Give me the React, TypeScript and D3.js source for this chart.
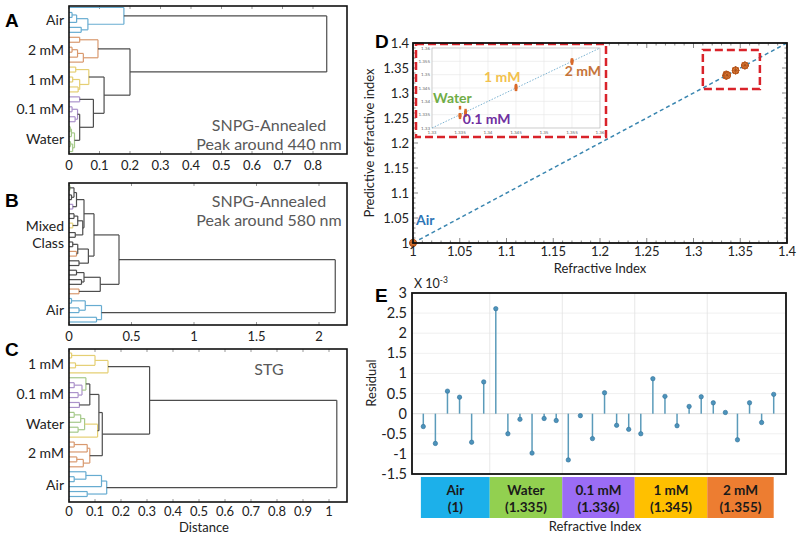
/**
 * App.tsx – dendrograms (A–C), refractive index fit (D) and residuals (E)
 */
import React from "react";
import * as d3 from "d3";

type Node = string | [Node, Node, number, string?];

const FONT = "Lato, 'Open Sans', sans-serif";

// ── Dendrogram data (leaf = class key, node = [left, right, distance, colourOverride?]) ──
const dendroColors: Record<string, string> = {
  a: "#67acd1",
  o: "#d9996e",
  y: "#e5cf73",
  p: "#ab92cb",
  g: "#a5c98a",
};
const LINK_GREY = "#4d4d4d";

const airA: Node = ["a", [[["a", "a", 0.01], "a", 0.025], ["a", "a", 0.04], 0.062], 0.18];
const mm2A: Node = [["o", "o", 0.035], [[["o", "o", 0.01], "o", 0.028], "o", 0.047], 0.095];
const mm1A: Node = [["y", "y", 0.022], [["y", "y", 0.012], ["y", "y", 0.03], 0.035], 0.065];
const pwA: Node = [
  ["p", "p", 0.035],
  [
    [["p", "p", 0.01], ["p", "p", 0.02], 0.028],
    [[["g", "g", 0.004], "g", 0.008], [["g", "g", 0.005], "g", 0.012], 0.018],
    0.035,
  ],
  0.08,
];
const treeA: Node = [airA, [mm2A, [mm1A, pwA, 0.115], 0.2], 0.845];

const g1B: Node = [
  [[["g", "g", 0.008], ["p", "g", 0.02], 0.04], ["p", "p", 0.03], 0.06],
  [[["y", "p", 0.04], ["y", "y", 0.03], 0.07], ["g", "p", 0.05], 0.11],
  0.12,
];
const g2B: Node = [[["o", "y", 0.03], ["o", "o", 0.06], 0.07], ["y", "p", 0.08], 0.155];
const g3B: Node = [[["y", "o", 0.06], ["o", "y", 0.1], 0.12], ["o", "o", 0.08], 0.25];
const airB: Node = [[["a", "a", 0.02], ["a", "a", 0.08], 0.13], ["a", "a", 0.22], 0.26];
const treeB: Node = [[[g1B, g2B, 0.2], g3B, 0.4], airB, 2.13];

const mm1C: Node = [[["y", "y", 0.01], ["y", "y", 0.025], 0.1], "y", 0.15];
const pC: Node = [["p", "p", 0.02], ["p", "p", 0.035], 0.05];
const pgC: Node = [["g", pC, 0.065, "g"], ["p", "p", 0.04], 0.08];
const wC: Node = [[["g", "g", 0.02], "g", 0.045], ["g", "g", 0.035], 0.06];
const wyC: Node = [wC, "y", 0.11, "y"];
const mm2C: Node = [[["o", "o", 0.02], "o", 0.07], [["o", "o", 0.03], "o", 0.055], 0.08];
const airC: Node = [[["a", ["a", "a", 0.02], 0.065], "a", 0.125], ["a", "a", 0.07], 0.145];
const treeC: Node = [[mm1C, [[pgC, wyC, 0.115], mm2C, 0.128], 0.31], airC, 1.03];

const ticksA = [0, 0.1, 0.2, 0.3, 0.4, 0.5, 0.6, 0.7, 0.8];
const ticksB = [0, 0.5, 1, 1.5, 2];
const ticksC = [0, 0.1, 0.2, 0.3, 0.4, 0.5, 0.6, 0.7, 0.8, 0.9, 1];

const labelsA = ["Air", "2 mM", "1 mM", "0.1 mM", "Water"];
const labelLeafA = [2.5, 8.5, 14.5, 20.5, 26.5];
const labelsB = ["Mixed\nClass", "Air"];
const labelLeafB = [10.5, 26.5];
const labelsC = ["1 mM", "0.1 mM", "Water", "2 mM", "Air"];
const labelLeafC = [2.2, 8.3, 14.3, 20.3, 26.6];

// ── Refractive index data ──
const classes = ["Air", "Water", "0.1 mM", "1 mM", "2 mM"];
const classRI = [1, 1.335, 1.336, 1.345, 1.355];
const classRILabel = ["(1)", "(1.335)", "(1.336)", "(1.345)", "(1.355)"];
const classBoxColors = ["#1cb0ea", "#92d050", "#9b6cf5", "#ffc000", "#ed7d31"];
const samplesPerClass = 6;
// residuals, x 10^-3, in sample order
const residuals = [
  -0.32, -0.74, 0.56, 0.41, -0.71, 0.79,
  2.61, -0.5, -0.14, -0.98, -0.12, -0.17,
  -1.15, -0.05, -0.62, 0.52, -0.29, -0.39,
  -0.5, 0.87, 0.43, -0.3, 0.18, 0.42,
  0.27, 0.03, -0.65, 0.27, -0.22, 0.48,
];

const ticksD = [1, 1.05, 1.1, 1.15, 1.2, 1.25, 1.3, 1.35, 1.4];
const ticksInset = [1.33, 1.335, 1.34, 1.345, 1.35, 1.355, 1.36];
const ticksE = [3, 2.5, 2, 1.5, 1, 0.5, 0, -0.5, -1, -1.5];
const insetLabels = ["Water", "0.1 mM", "1 mM", "2 mM"];
const insetLabelColors = ["#70ad47", "#7030a0", "#f2c14e", "#c5743a"];

function countLeaves(n: Node): number {
  return typeof n === "string" ? 1 : countLeaves(n[0]) + countLeaves(n[1]);
}

interface Seg { x1: number; y1: number; x2: number; y2: number; color: string }

function dendroSegments(tree: Node, x: (v: number) => number, y: (v: number) => number) {
  const segs: Seg[] = [];
  let i = 0;
  const walk = (n: Node): { y: number; h: number; cls: string | null } => {
    if (typeof n === "string") return { y: y(i++), h: 0, cls: n };
    const l = walk(n[0]);
    const r = walk(n[1]);
    const cls = l.cls && l.cls === r.cls ? l.cls : null;
    const key = n[3] ?? cls;
    const color = key ? dendroColors[key] : LINK_GREY;
    const xh = x(n[2]);
    segs.push({ x1: x(l.h), y1: l.y, x2: xh, y2: l.y, color });
    segs.push({ x1: x(r.h), y1: r.y, x2: xh, y2: r.y, color });
    segs.push({ x1: xh, y1: l.y, x2: xh, y2: r.y, color });
    return { y: (l.y + r.y) / 2, h: n[2], cls };
  };
  walk(tree);
  return segs;
}

interface DendroProps {
  tree: Node;
  xMax: number;
  ticks: number[];
  y0: number;
  y1: number;
  leafRange: [number, number];
  labels: string[];
  labelLeaf: number[];
  notes: string[];
  noteY: number;
  letter: string;
  letterY: number;
  xLabel?: string;
}

const Dendrogram: React.FC<DendroProps> = (p) => {
  const X0 = 69, X1 = 347;
  const x = d3.scaleLinear().domain([0, p.xMax]).range([X0, X1]);
  const n = countLeaves(p.tree);
  const y = d3.scaleLinear().domain([0, n - 1]).range(p.leafRange);
  const segs = dendroSegments(p.tree, x, y);
  const tickY = p.xLabel ? p.y1 + 14 : p.y1 + 16;
  return (
    <g>
      <rect x={X0} y={p.y0} width={X1 - X0} height={p.y1 - p.y0} fill="#fff" />
      {p.ticks.map((t) => (
        <g key={t}>
          <line x1={x(t)} x2={x(t)} y1={p.y1} y2={p.y1 - 3} stroke="#999" />
          <line x1={x(t)} x2={x(t)} y1={p.y0} y2={p.y0 + 3} stroke="#999" />
          <text x={x(t)} y={tickY} textAnchor="middle" fontSize={13} fill="#222">
            {t}
          </text>
        </g>
      ))}
      {segs.map((s, i) => (
        <line key={i} x1={s.x1} y1={s.y1} x2={s.x2} y2={s.y2} stroke={s.color} strokeWidth={1.2} />
      ))}
      <rect x={X0} y={p.y0} width={X1 - X0} height={p.y1 - p.y0} fill="none" stroke="#111" strokeWidth={1.6} />
      {p.labels.map((lab, k) => {
        const lines = lab.split("\n");
        const cy = y(p.labelLeaf[k]);
        return (
          <text key={lab} x={64} textAnchor="end" fontSize={14} fill="#222">
            {lines.map((ln, j) => (
              <tspan key={j} x={64} y={cy + 5 + (j - (lines.length - 1) / 2) * 17}>
                {ln}
              </tspan>
            ))}
          </text>
        );
      })}
      {p.notes.map((ln, j) => (
        <text key={j} x={269} y={p.noteY + j * 19} textAnchor="middle" fontSize={16} fill="#595959">
          {ln}
        </text>
      ))}
      <text x={5} y={p.letterY} fontSize={19} fontWeight="bold" fontFamily="'Liberation Sans', Arial, sans-serif">
        {p.letter}
      </text>
      {p.xLabel && (
        <text x={(X0 + X1) / 2 - 4} y={p.y1 + 30} textAnchor="middle" fontSize={13} fill="#222">
          {p.xLabel}
        </text>
      )}
    </g>
  );
};

const fmt = (v: number) => String(+v.toFixed(3));

const PanelD: React.FC = () => {
  const x = d3.scaleLinear().domain([1, 1.4]).range([413, 787]);
  const y = d3.scaleLinear().domain([1, 1.4]).range([243, 43]);
  const minor = d3.range(100, 141).map((v) => v / 100);
  const pts = residuals.map((r, i) => {
    const ri = classRI[Math.floor(i / samplesPerClass)];
    return { ri, pred: ri + r / 1000 };
  });
  // inset
  const ix = d3.scaleLinear().domain([1.33, 1.36]).range([432, 600]);
  const iy = d3.scaleLinear().domain([1.33, 1.36]).range([128, 48]);
  const insetLabelPos: [number, number][] = [
    [1.3302, 1.3394],
    [1.3355, 1.3315],
    [1.3393, 1.3474],
    [1.3537, 1.3496],
  ];
  const zoomBox = { x0: 1.31, x1: 1.371, y0: 1.308, y1: 1.386 };
  return (
    <g>
      <rect x={413} y={43} width={374} height={200} fill="#fff" />
      {minor.map((v) => {
        const major = Math.abs(v * 20 - Math.round(v * 20)) < 1e-6;
        const len = major ? 5 : 2.5;
        return (
          <g key={v} stroke="#555" strokeWidth={0.7}>
            <line x1={x(v)} x2={x(v)} y1={243} y2={243 - len} />
            <line x1={x(v)} x2={x(v)} y1={43} y2={43 + len} />
            <line x1={413} x2={413 + len} y1={y(v)} y2={y(v)} />
            <line x1={787} x2={787 - len} y1={y(v)} y2={y(v)} />
          </g>
        );
      })}
      <line x1={x(1)} y1={y(1)} x2={x(1.4)} y2={y(1.4)} stroke="#3a86b0" strokeWidth={1.5} strokeDasharray="4,3" />
      {pts.map((d, i) => (
        <g key={i} transform={`translate(${x(d.ri)},${y(d.pred)})`}>
          <circle r={3.2} fill="#e8833a" stroke="#b5541c" strokeWidth={0.8} />
          <path d="M-3.5,0H3.5M0,-3.5V3.5M-2.5,-2.5L2.5,2.5M-2.5,2.5L2.5,-2.5" stroke="#a04a18" strokeWidth={0.7} />
        </g>
      ))}
      <rect
        x={x(zoomBox.x0)}
        y={y(zoomBox.y1)}
        width={x(zoomBox.x1) - x(zoomBox.x0)}
        height={y(zoomBox.y0) - y(zoomBox.y1)}
        fill="none"
        stroke="#d9232a"
        strokeWidth={2.5}
        strokeDasharray="8,4"
      />
      {/* inset */}
      <rect x={416} y={44} width={190} height={93} fill="#fff" />
      {ticksInset.map((t) => (
        <g key={t}>
          <line x1={ix(t)} x2={ix(t)} y1={48} y2={128} stroke="#e6e6e6" strokeWidth={0.6} />
          <line x1={432} x2={600} y1={iy(t)} y2={iy(t)} stroke="#e6e6e6" strokeWidth={0.6} />
          <text x={ix(t)} y={133.5} textAnchor="middle" fontSize={4.5} fill="#666">{fmt(t)}</text>
          <text x={430} y={iy(t) + 1.5} textAnchor="end" fontSize={4.5} fill="#666">{fmt(t)}</text>
        </g>
      ))}
      <rect x={432} y={48} width={168} height={80} fill="none" stroke="#bbb" strokeWidth={0.6} />
      <line x1={ix(1.33)} y1={iy(1.33)} x2={ix(1.36)} y2={iy(1.36)} stroke="#5aa0c5" strokeWidth={0.8} strokeDasharray="1.5,1.5" />
      {pts.filter((d) => d.ri > 1.3).map((d, i) => (
        <rect key={i} x={ix(d.ri) - 1.2} y={iy(d.pred) - 1.8} width={2.4} height={3.6} fill="#d9692a" />
      ))}
      {insetLabels.map((lab, k) => (
        <text key={lab} x={ix(insetLabelPos[k][0])} y={iy(insetLabelPos[k][1])} fontSize={14} fontWeight="bold" fill={insetLabelColors[k]}>
          {lab}
        </text>
      ))}
      <rect x={416} y={44} width={190} height={93} fill="none" stroke="#d9232a" strokeWidth={2.5} strokeDasharray="8,4" />
      <text x={x(1) + 3} y={225} fontSize={14} fontWeight="bold" fill="#2e75b6">Air</text>
      <rect x={413} y={43} width={374} height={200} fill="none" stroke="#111" strokeWidth={1.8} />
      {ticksD.map((t) => (
        <g key={t}>
          <text x={x(t)} y={256} textAnchor="middle" fontSize={13} fill="#222">{fmt(t)}</text>
          <text x={409} y={y(t) + 4.5} textAnchor="end" fontSize={13} fill="#222">{fmt(t)}</text>
        </g>
      ))}
      <text x={600} y={273} textAnchor="middle" fontSize={13} fill="#222">Refractive Index</text>
      <text transform="translate(374,143) rotate(-90)" textAnchor="middle" fontSize={13} fill="#222">
        Predictive refractive index
      </text>
      <text x={375} y={48} fontSize={19} fontWeight="bold" fontFamily="'Liberation Sans', Arial, sans-serif">D</text>
    </g>
  );
};

const PanelE: React.FC = () => {
  const y = d3.scaleLinear().domain([-1.5, 3]).range([474, 293]);
  const sx = d3.scaleLinear().domain([0, residuals.length - 1]).range([423.3, 773.7]);
  const edges = [-0.2, 5.5, 11.5, 17.5, 23.5, 29];
  return (
    <g>
      <rect x={412} y={293} width={374} height={181} fill="#fff" />
      {ticksE.map((t) => (
        <line key={t} x1={412} x2={786} y1={y(t)} y2={y(t)} stroke="#ececec" strokeWidth={0.8} />
      ))}
      {edges.slice(1, -1).map((e) => (
        <line key={e} x1={sx(e)} x2={sx(e)} y1={293} y2={474} stroke="#e2e2e2" strokeWidth={0.8} />
      ))}
      <line x1={412} x2={786} y1={y(0)} y2={y(0)} stroke="#d0d0d0" strokeWidth={0.6} />
      {residuals.map((r, i) => (
        <g key={i}>
          <line x1={sx(i)} x2={sx(i)} y1={y(0)} y2={y(r)} stroke="#5b9bba" strokeWidth={1.5} />
          <circle cx={sx(i)} cy={y(r)} r={2.2} fill="#4d93bb" stroke="#2f7099" strokeWidth={0.6} />
        </g>
      ))}
      <rect x={412} y={293} width={374} height={181} fill="none" stroke="#111" strokeWidth={1.8} />
      {ticksE.map((t) => (
        <text key={t} x={407} y={y(t) + 5} textAnchor="end" fontSize={14.5} fill="#222">{t}</text>
      ))}
      <text x={414} y={288} fontSize={12.5} fill="#222">
        X 10<tspan dy={-5} fontSize={8.5}>-3</tspan>
      </text>
      <text transform="translate(376,383) rotate(-90)" textAnchor="middle" fontSize={13} fill="#222">Residual</text>
      {classes.map((c, k) => {
        const x0 = sx(edges[k]);
        const x1 = sx(edges[k + 1]);
        return (
          <g key={c}>
            <rect x={x0} y={477} width={x1 - x0} height={41} fill={classBoxColors[k]} />
            <text x={(x0 + x1) / 2} y={495} textAnchor="middle" fontSize={13.5} fontWeight="bold" fill="#1a1a1a">{c}</text>
            <text x={(x0 + x1) / 2} y={512} textAnchor="middle" fontSize={13.5} fontWeight="bold" fill="#1a1a1a">{classRILabel[k]}</text>
          </g>
        );
      })}
      <text x={595} y={531} textAnchor="middle" fontSize={13} fill="#222">Refractive Index</text>
      <text x={375} y={302} fontSize={19} fontWeight="bold" fontFamily="'Liberation Sans', Arial, sans-serif">E</text>
    </g>
  );
};

export default function App() {
  return (
    <svg
      width={800}
      height={536}
      viewBox="0 0 800 536"
      style={{ position: "absolute", left: 0, top: 0, background: "#fff" }}
      fontFamily={FONT}
    >
      <Dendrogram
        tree={treeA}
        xMax={278 / 305}
        ticks={ticksA}
        y0={6}
        y1={154}
        leafRange={[7.5, 151.5]}
        labels={labelsA}
        labelLeaf={labelLeafA}
        notes={["SNPG-Annealed", "Peak around 440 nm"]}
        noteY={131}
        letter="A"
        letterY={27}
      />
      <Dendrogram
        tree={treeB}
        xMax={278 / 125}
        ticks={ticksB}
        y0={183}
        y1={325}
        leafRange={[185.5, 322]}
        labels={labelsB}
        labelLeaf={labelLeafB}
        notes={["SNPG-Annealed", "Peak around 580 nm"]}
        noteY={207}
        letter="B"
        letterY={207}
      />
      <Dendrogram
        tree={treeC}
        xMax={278 / 260}
        ticks={ticksC}
        y0={349}
        y1={502}
        leafRange={[353, 496.5]}
        labels={labelsC}
        labelLeaf={labelLeafC}
        notes={["STG"]}
        noteY={375}
        letter="C"
        letterY={356}
        xLabel="Distance"
      />
      <PanelD />
      <PanelE />
    </svg>
  );
}
